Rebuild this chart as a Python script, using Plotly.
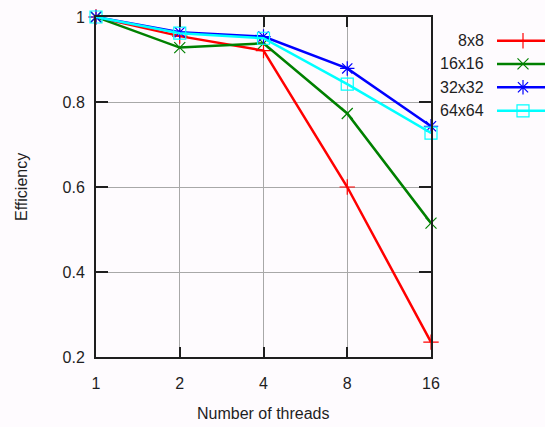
import plotly.graph_objects as go
import math

threads = [1, 2, 4, 8, 16]
tick_labels = ["1", "2", "4", "8", "16"]
y_ticks = [0.2, 0.4, 0.6, 0.8, 1.0]
y_tick_labels = ["0.2", "0.4", "0.6", "0.8", "1"]

series_names = ["8x8", "16x16", "32x32", "64x64"]
eff_8x8 = [1.0, 0.955, 0.921, 0.600, 0.235]
eff_16x16 = [1.0, 0.928, 0.938, 0.773, 0.515]
eff_32x32 = [1.0, 0.964, 0.954, 0.879, 0.743]
eff_64x64 = [1.0, 0.962, 0.950, 0.842, 0.727]
series_values = [eff_8x8, eff_16x16, eff_32x32, eff_64x64]

colors = ["#ff0000", "#008000", "#0000ff", "#00ffff"]
symbols = ["cross-thin-open", "x-thin-open", "asterisk-open", "square-open"]
msizes = [11, 11, 12, 12]

W, H = 545, 427
L, R, T, B = 96, 0, 17, 70
plot_w = W - L - R
plot_h = H - T - B
x_right = 431
leg_left = 497
FS = 16
TXT = "#1e1e1e"
BG = "#fefbfe"

fig = go.Figure()
for name, vals, c, s, ms in zip(series_names, series_values, colors, symbols, msizes):
    fig.add_trace(go.Scatter(
        x=threads, y=vals, mode="lines+markers", name=name,
        line=dict(color=c, width=2.5),
        marker=dict(symbol=s, size=ms, color=c, line=dict(color=c, width=1.2)),
        cliponaxis=False, showlegend=False,
    ))

# manual legend (gnuplot style: text left, sample right)
leg_y = [40.7, 63.9, 87.3, 110.8]
for name, c, s, ms, ly in zip(series_names, colors, symbols, msizes, leg_y):
    fig.add_trace(go.Scatter(
        x=[0, 52], y=[ly, ly], mode="lines", xaxis="x2", yaxis="y2",
        line=dict(color=c, width=2.5), showlegend=False, cliponaxis=False,
    ))
    fig.add_trace(go.Scatter(
        x=[26], y=[ly], mode="markers", xaxis="x2", yaxis="y2",
        marker=dict(symbol=s, size=ms, color=c, line=dict(color=c, width=1.2)),
        showlegend=False, cliponaxis=False,
    ))
    fig.add_annotation(
        x=(486 - L) / plot_w, y=(H - B - ly) / plot_h, xref="paper", yref="paper",
        text=name, showarrow=False, xanchor="right", yanchor="middle",
        font=dict(size=FS, color=TXT),
    )

fig.update_layout(
    width=W, height=H, autosize=False,
    margin=dict(l=L, r=R, t=T, b=B, pad=0, autoexpand=False),
    paper_bgcolor=BG, plot_bgcolor=BG,
    font=dict(family="Liberation Sans, Arial, sans-serif", size=FS, color=TXT),
    xaxis=dict(
        type="log", domain=[0, (x_right - L) / plot_w],
        range=[0, math.log10(16)],
        tickvals=threads, ticktext=tick_labels,
        ticks="inside", ticklen=10, tickcolor=TXT, tickwidth=1.5,
        showline=True, linecolor=TXT, linewidth=2, mirror="ticks",
        showgrid=True, gridcolor="#a8a8a8", gridwidth=1,
        zeroline=False, ticklabelstandoff=11,
    ),
    yaxis=dict(
        range=[0.2, 1.0], tickvals=y_ticks, ticktext=y_tick_labels,
        ticks="inside", ticklen=12, tickcolor=TXT, tickwidth=1.5,
        showline=True, linecolor=TXT, linewidth=2, mirror="ticks",
        showgrid=True, gridcolor="#a8a8a8", gridwidth=1,
        zeroline=False, ticklabelstandoff=6,
    ),
    xaxis2=dict(domain=[(leg_left - L) / plot_w, 1], range=[0, 48], visible=False,
                anchor="y2"),
    yaxis2=dict(domain=[0, 1], range=[H - B, T], visible=False, anchor="x2"),
)

fig.add_annotation(
    x=(263 - L) / plot_w, y=(H - B - 413) / plot_h,
    xref="paper", yref="paper", text="Number of threads", showarrow=False,
    xanchor="center", yanchor="middle", font=dict(size=FS, color=TXT),
)
fig.add_annotation(
    x=(21 - L) / plot_w, y=(H - B - 187) / plot_h, xref="paper", yref="paper",
    text="Efficiency", showarrow=False, textangle=-90,
    xanchor="center", yanchor="middle", font=dict(size=FS, color=TXT),
)

fig.write_html(
    "out.html",
    config={"displayModeBar": False, "responsive": False},
    post_script="document.body.style.margin='0';document.body.style.padding='0';"
                "document.body.style.overflow='hidden';"
                "document.documentElement.style.overflow='hidden';"
                "document.body.style.background='" + BG + "';",
)
